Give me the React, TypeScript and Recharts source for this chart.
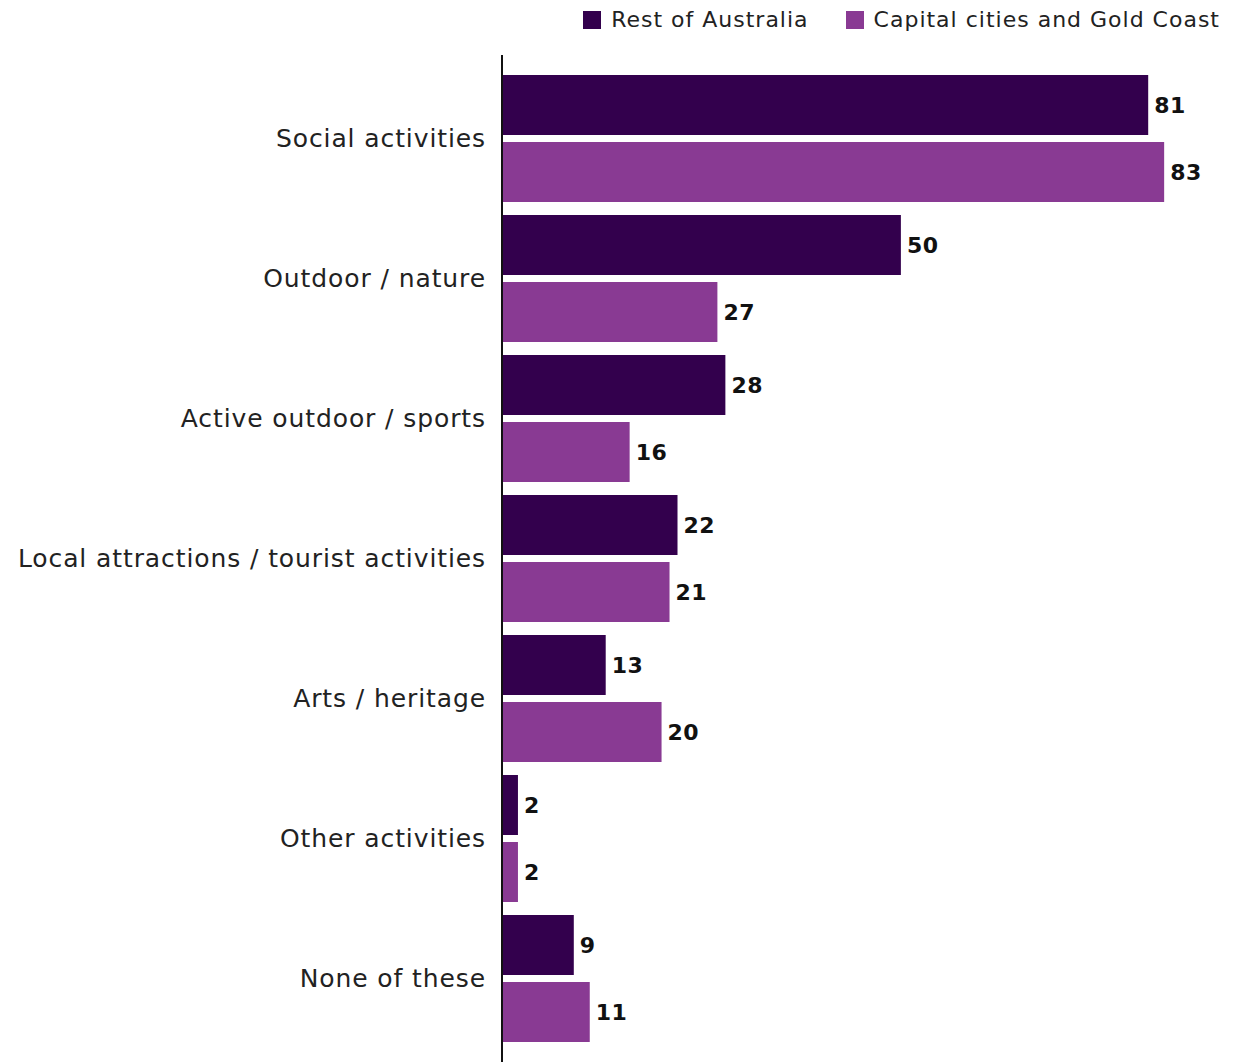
import { BarChart, Bar, XAxis, YAxis, LabelList, Legend } from 'recharts'

const categories = [
  'Social activities',
  'Outdoor / nature',
  'Active outdoor / sports',
  'Local attractions / tourist activities',
  'Arts / heritage',
  'Other activities',
  'None of these',
]
const restOfAustralia = [81, 50, 28, 22, 13, 2, 9]
const capitalCities = [83, 27, 16, 21, 20, 2, 11]

const DARK = '#33004d'
const LIGHT = '#893a93'
const FONT = '"DejaVu Sans", sans-serif'

const data = categories.map((name, i) => ({
  name,
  rest: restOfAustralia[i],
  capital: capitalCities[i],
}))

function LegendBox() {
  const items = [
    { label: 'Rest of Australia', color: DARK },
    { label: 'Capital cities and Gold Coast', color: LIGHT },
  ]
  return (
    <div style={{ display: 'flex', justifyContent: 'flex-end', gap: 37, fontFamily: FONT, fontSize: 22, letterSpacing: 1, lineHeight: '30px', color: '#222' }}>
      {items.map((it) => (
        <div key={it.label} style={{ display: 'flex', alignItems: 'center', gap: 10 }}>
          <span style={{ width: 18, height: 18, background: it.color, display: 'inline-block' }} />
          <span>{it.label}</span>
        </div>
      ))}
    </div>
  )
}

const valueStyle = { fill: '#111', fontSize: 22, fontWeight: 700, fontFamily: FONT, letterSpacing: 0.5 }

export default function App() {
  return (
    <div style={{ position: 'absolute', left: 0, top: 0, background: '#fff' }}>
      <BarChart
        width={1245}
        height={1062}
        data={data}
        layout="vertical"
        margin={{ top: 25, right: 25, bottom: 0, left: 0 }}
        barGap={7}
        barCategoryGap={6.5}
      >
        <XAxis type="number" domain={[0, 90]} hide />
        <YAxis
          type="category"
          dataKey="name"
          width={502}
          tickLine={false}
          tickSize={0}
          tickMargin={16}
          padding={{ top: 13.5, bottom: 13.5 }}
          axisLine={{ stroke: '#111', strokeWidth: 2 }}
          tick={{ fill: '#222', fontSize: 25, fontFamily: FONT, letterSpacing: 0.9 }}
        />
        <Legend
          verticalAlign="top"
          align="right"
          content={<LegendBox />}
          wrapperStyle={{ top: 5, right: 25, width: 'auto' }}
        />
        <Bar dataKey="rest" name="Rest of Australia" fill={DARK} isAnimationActive={false}>
          <LabelList dataKey="rest" position="right" offset={6} style={valueStyle} />
        </Bar>
        <Bar dataKey="capital" name="Capital cities and Gold Coast" fill={LIGHT} isAnimationActive={false}>
          <LabelList dataKey="capital" position="right" offset={6} style={valueStyle} />
        </Bar>
      </BarChart>
    </div>
  )
}
